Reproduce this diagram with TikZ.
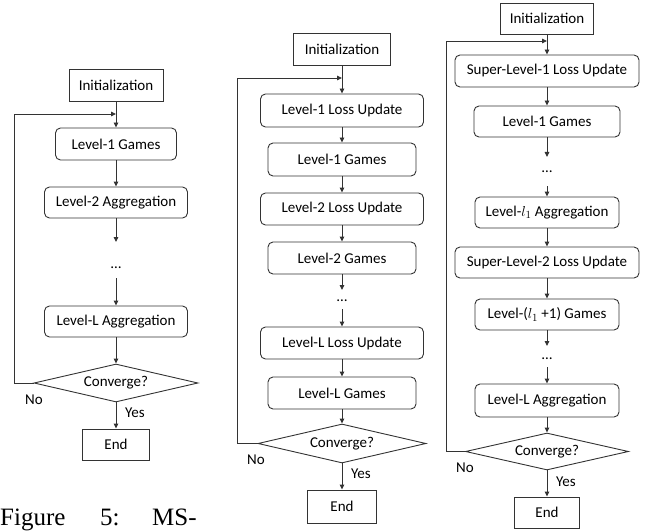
\documentclass[tikz,border=0pt]{standalone}
\usepackage{fontspec}
\setmainfont{Carlito}
\newfontfamily\capfont{Liberation Serif}
\usetikzlibrary{shapes.geometric,arrows.meta}
\begin{document}
\begin{tikzpicture}[x=1pt,y=-1pt,
  base/.style={draw=black!80, line width=0.9pt, inner sep=0pt, font=\fontsize{15}{18}\selectfont},
  sq/.style={base, rectangle},
  rb/.style={base, rectangle, rounded corners=5pt},
  dia/.style={base, diamond, aspect=4.3},
  arr/.style={draw=black!80, line width=0.9pt, -{Triangle[length=5pt,width=4.5pt]}},
  lab/.style={font=\fontsize{15}{18}\selectfont, inner sep=0pt},
  dotsty/.style={font=\fontsize{15}{18}\selectfont, inner sep=0pt, anchor=base},
  capt/.style={font=\capfont\fontsize{25}{30}\selectfont, inner sep=0pt, anchor=base west}]
\useasboundingbox (0,0) rectangle (648,532);

% ---------- Column 1 ----------
\node[sq, minimum width=94pt, minimum height=32pt] (i1) at (116,85) {Initialization};
\node[rb, minimum width=121pt, minimum height=32pt] (a1) at (116,144) {Level-1 Games};
\node[rb, minimum width=143pt, minimum height=31pt] (a2) at (116,202.5) {Level-2 Aggregation};
\node[dotsty] (d1) at (116,268) {…};
\coordinate (d1t) at (116,242);
\coordinate (d1b) at (116,278);
\node[rb, minimum width=143pt, minimum height=31pt] (a3) at (116,321.5) {Level-L Aggregation};
\node[dia, minimum width=164pt, minimum height=38pt] (c1) at (116,383) {Converge?};
\node[sq, minimum width=67pt, minimum height=31pt] (e1) at (116,444.5) {End};
\coordinate (l1) at (14,114);
\draw[arr] (i1) -- (a1);
\draw[arr] (a1) -- (a2);
\draw[arr] (a2) -- (d1t);
\draw[arr] (d1b) -- (a3);
\draw[arr] (a3) -- (c1);
\draw[arr] (c1) -- (e1);
\draw[arr] (c1.west) -| (l1) -- (l1 -| i1.south);
\node[lab] (no1) at (34,400) {No};
\node[lab] (yes1) at (135,413) {Yes};

% ---------- Column 2 ----------
\node[sq, minimum width=97pt, minimum height=32pt] (i2) at (342,49) {Initialization};
\node[rb, minimum width=163pt, minimum height=33pt] (b1) at (342,110.5) {Level-1 Loss Update};
\node[rb, minimum width=148pt, minimum height=33pt] (b2) at (342,159.5) {Level-1 Games};
\node[rb, minimum width=163pt, minimum height=32pt] (b3) at (342,209) {Level-2 Loss Update};
\node[rb, minimum width=148pt, minimum height=32pt] (b4) at (342,258) {Level-2 Games};
\node[dotsty] (d2) at (342,301) {…};
\coordinate (d2t) at (342,290);
\coordinate (d2b) at (342,309);
\node[rb, minimum width=163pt, minimum height=32pt] (b5) at (342,343) {Level-L Loss Update};
\node[rb, minimum width=148pt, minimum height=32pt] (b6) at (342,393) {Level-L Games};
\node[dia, minimum width=168pt, minimum height=39pt] (c2) at (342,443.5) {Converge?};
\node[sq, minimum width=69pt, minimum height=33pt] (e2) at (342,506.5) {End};
\coordinate (l2) at (237,78);
\draw[arr] (i2) -- (b1);
\draw[arr] (b1) -- (b2);
\draw[arr] (b2) -- (b3);
\draw[arr] (b3) -- (b4);
\draw[arr] (b4) -- (d2t);
\draw[arr] (d2b) -- (b5);
\draw[arr] (b5) -- (b6);
\draw[arr] (b6) -- (c2);
\draw[arr] (c2) -- (e2);
\draw[arr] (c2.west) -| (l2) -- (l2 -| i2.south);
\node[lab] (no2) at (256,460) {No};
\node[lab] (yes2) at (361,474) {Yes};

% ---------- Column 3 ----------
\node[sq, minimum width=93pt, minimum height=31pt] (i3) at (547,18.5) {Initialization};
\node[rb, minimum width=184pt, minimum height=32pt] (s1) at (547,71) {Super-Level-1 Loss Update};
\node[rb, minimum width=146pt, minimum height=31pt] (s2) at (547,121.5) {Level-1 Games};
\node[dotsty] (d3) at (547,172) {…};
\coordinate (d3t) at (547,157);
\coordinate (d3b) at (547,186);
\node[rb, minimum width=144pt, minimum height=31pt] (s3) at (547,212.5) {Level-$l_1$ Aggregation};
\node[rb, minimum width=184pt, minimum height=31pt] (s4) at (547,262.5) {Super-Level-2 Loss Update};
\node[rb, minimum width=144pt, minimum height=31pt] (s5) at (547,314.5) {Level-($l_1$ +1) Games};
\node[dotsty] (d4) at (547,359) {…};
\coordinate (d4t) at (547,346);
\coordinate (d4b) at (547,367);
\node[rb, minimum width=144pt, minimum height=33pt] (s6) at (547,400.5) {Level-L Aggregation};
\node[dia, minimum width=163pt, minimum height=37pt] (c3) at (547,451.5) {Converge?};
\node[sq, minimum width=65pt, minimum height=31pt] (e3) at (547,512.5) {End};
\coordinate (l3) at (446,41);
\draw[arr] (i3) -- (s1);
\draw[arr] (s1) -- (s2);
\draw[arr] (s2) -- (d3t);
\draw[arr] (d3b) -- (s3);
\draw[arr] (s3) -- (s4);
\draw[arr] (s4) -- (s5);
\draw[arr] (s5) -- (d4t);
\draw[arr] (d4b) -- (s6);
\draw[arr] (s6) -- (c3);
\draw[arr] (c3) -- (e3);
\draw[arr] (c3.west) -| (l3) -- (l3 -| i3.south);
\node[lab] (no3) at (465,468) {No};
\node[lab] (yes3) at (566,482) {Yes};

% ---------- Caption fragment ----------
\node[capt] (cap1) at (0,525) {Figure};
\node[capt] (cap2) at (100,525) {5:};
\node[capt] (cap3) at (152,525) {MS-};
\end{tikzpicture}
\end{document}
